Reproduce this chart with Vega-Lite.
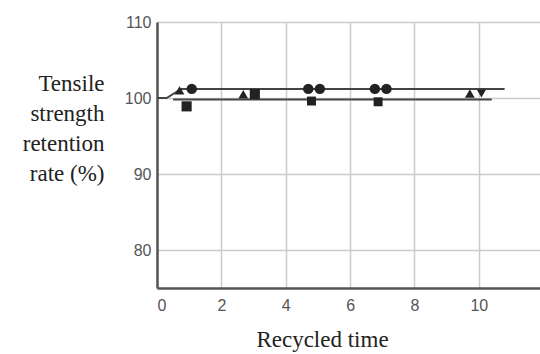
{
  "$schema": "https://vega.github.io/schema/vega-lite/v6.json",
  "width": 383,
  "height": 266,
  "autosize": {"type": "none"},
  "padding": {"left": 157, "top": 22, "right": 0, "bottom": 66},
  "background": "white",
  "config": {
    "view": {"stroke": null},
    "axis": {
      "labelFont": "Liberation Sans",
      "labelFontSize": 16,
      "labelColor": "#555555",
      "titleFont": "Liberation Serif",
      "titleFontSize": 23,
      "titleFontWeight": "normal",
      "titleColor": "#222222",
      "domainColor": "#555555",
      "domainWidth": 2.5,
      "gridColor": "#cccccc",
      "gridWidth": 1.5,
      "ticks": false
    }
  },
  "datasets": {
    "lines": [
      {"line": "upper", "x": 0, "y": 100},
      {"line": "upper", "x": 0.3, "y": 100},
      {"line": "upper", "x": 0.75, "y": 101.2},
      {"line": "upper", "x": 10.8, "y": 101.2},
      {"line": "lower", "x": 0.5, "y": 99.8},
      {"line": "lower", "x": 10.4, "y": 99.8}
    ],
    "points": [
      {"sample": "P1", "x": 1.08, "y": 101.2},
      {"sample": "P1", "x": 4.7, "y": 101.2},
      {"sample": "P1", "x": 5.06, "y": 101.2},
      {"sample": "P1", "x": 6.77, "y": 101.2},
      {"sample": "P1", "x": 7.13, "y": 101.2},
      {"sample": "P2", "x": 0.92, "y": 98.9},
      {"sample": "P2", "x": 3.04, "y": 100.5},
      {"sample": "P3", "x": 0.7, "y": 101.0},
      {"sample": "P3", "x": 2.68, "y": 100.5},
      {"sample": "P3", "x": 9.72, "y": 100.6},
      {"sample": "P4", "x": 10.08, "y": 100.6},
      {"sample": "P5", "x": 4.8, "y": 99.6},
      {"sample": "P5", "x": 6.87, "y": 99.5}
    ]
  },
  "layer": [
    {
      "data": {"name": "lines"},
      "mark": {"type": "line", "color": "#444444", "strokeWidth": 2},
      "encoding": {
        "x": {
          "field": "x",
          "type": "quantitative",
          "scale": {"domain": [0, 11.9], "nice": false},
          "axis": {
            "values": [0, 2, 4, 6, 8, 10],
            "grid": true,
            "labelPadding": 9,
            "title": "Recycled time",
            "titleX": 165,
            "titleY": 58,
            "titleAlign": "center",
            "titleBaseline": "alphabetic"
          }
        },
        "y": {
          "field": "y",
          "type": "quantitative",
          "scale": {"domain": [75, 110], "nice": false, "zero": false},
          "axis": {
            "values": [80, 90, 100, 110],
            "grid": true,
            "labelPadding": 6,
            "title": ["Tensile", "strength", "retention", "rate (%)"],
            "titleAngle": 0,
            "titleAlign": "right",
            "titleBaseline": "alphabetic",
            "titleLineHeight": 30,
            "titleX": -53,
            "titleY": 68
          }
        },
        "detail": {"field": "line"}
      }
    },
    {
      "data": {"name": "points"},
      "mark": {"type": "point", "filled": true, "color": "#222222", "opacity": 1},
      "encoding": {
        "x": {"field": "x", "type": "quantitative"},
        "y": {"field": "y", "type": "quantitative"},
        "shape": {
          "field": "sample",
          "type": "nominal",
          "scale": {
            "domain": ["P1", "P2", "P3", "P4", "P5"],
            "range": ["circle", "square", "triangle-up", "triangle-down", "square"]
          },
          "legend": null
        },
        "size": {
          "field": "sample",
          "type": "nominal",
          "scale": {
            "domain": ["P1", "P2", "P3", "P4", "P5"],
            "range": [110, 80, 60, 80, 30]
          },
          "legend": null
        }
      }
    },
    {
      "mark": {"type": "rule", "color": "#555555", "strokeWidth": 2.5},
      "encoding": {"y": {"datum": 110, "type": "quantitative"}}
    }
  ]
}
